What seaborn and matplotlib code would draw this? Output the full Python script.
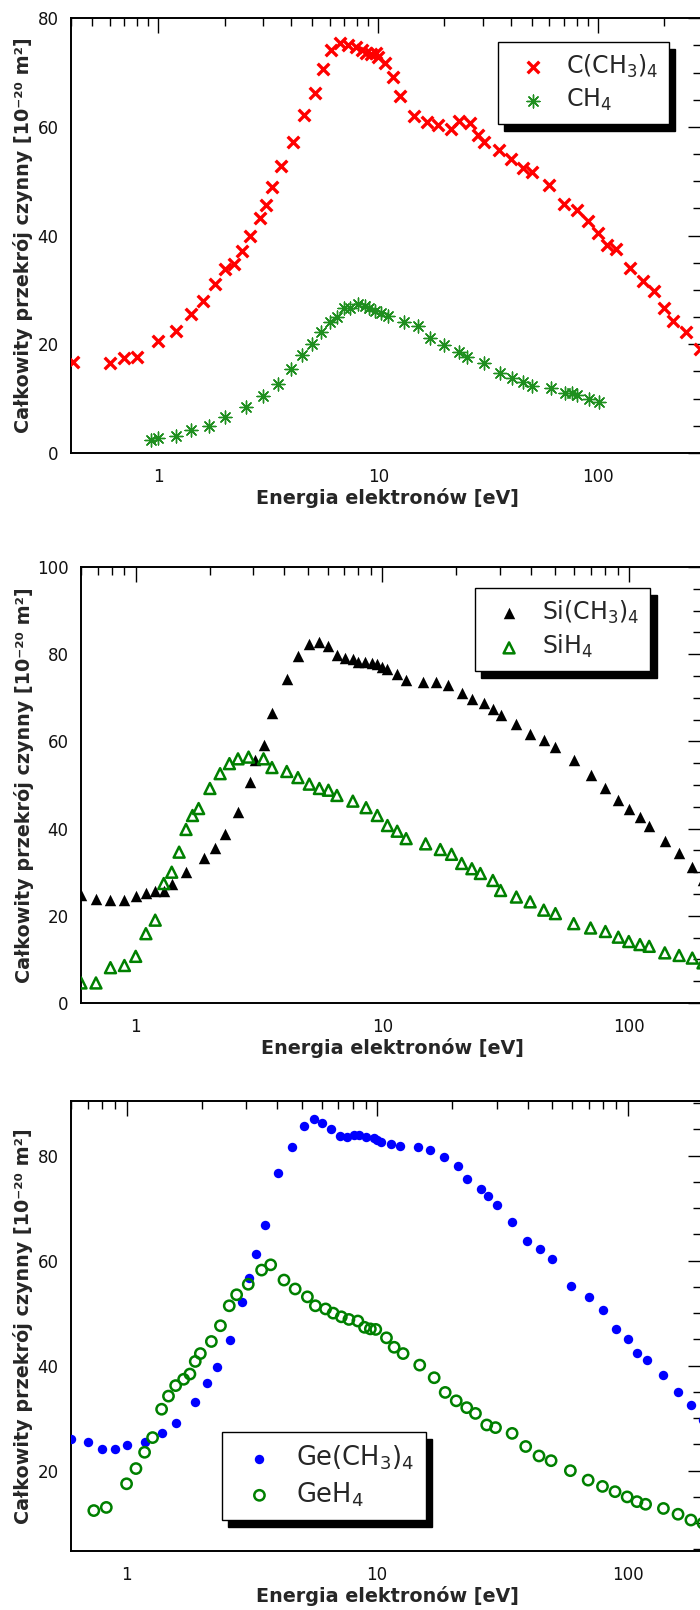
import matplotlib
matplotlib.use("Agg")
import matplotlib.pyplot as plt
import seaborn as sns
from matplotlib.ticker import FixedLocator, FixedFormatter, NullFormatter

# ---- panel 1: C(CH3)4 and CH4
c_energy = [0.41, 0.60, 0.70, 0.80, 1.0, 1.2, 1.4, 1.6, 1.8, 2.0, 2.2, 2.4, 2.6, 2.9, 3.1,
            3.3, 3.6, 4.1, 4.6, 5.15, 5.6, 6.1, 6.7, 7.3, 7.9, 8.4, 8.8, 9.3, 9.8, 10.0,
            10.7, 11.7, 12.6, 14.6, 16.7, 18.6, 21.4, 23.3, 26.2, 28.4, 30.2, 35.4, 40.0,
            45.4, 50.0, 60.0, 70.0, 80.0, 90.0, 100, 110, 120, 140, 160, 180, 200, 220,
            250, 290]
c_sigma = [16.8, 16.6, 17.4, 17.7, 20.6, 22.5, 25.6, 28.0, 31.1, 33.8, 34.8, 37.2, 39.9, 43.3, 45.6,
           49.0, 52.8, 57.2, 62.2, 66.2, 70.7, 74.2, 75.4, 75.0, 74.7, 74.1, 73.7, 73.4, 73.6, 72.8,
           71.8, 69.2, 65.7, 62.1, 61.0, 60.4, 59.7, 61.1, 60.8, 58.6, 57.3, 55.8, 54.1,
           52.4, 51.8, 49.4, 45.9, 44.7, 42.7, 40.5, 38.2, 37.5, 34.1, 31.6, 29.8, 26.7, 24.3,
           22.3, 19.1]
ch4_energy = [0.92, 1.0, 1.2, 1.4, 1.7, 2.0, 2.5, 3.0, 3.5, 4.0, 4.5, 5.0, 5.5, 6.0, 6.5,
              7.0, 7.4, 8.1, 8.7, 9.1, 9.7, 10.3, 11.1, 13.1, 15.1, 17.2, 20.0, 23.3, 25.2,
              30.2, 35.6, 40.4, 45.4, 50.0, 60.8, 71.0, 76.0, 80.5, 91.0, 101]
ch4_sigma = [2.4, 2.7, 3.2, 4.3, 5.0, 6.6, 8.4, 10.5, 12.7, 15.4, 18.0, 20.0, 22.2, 24.1, 25.1,
             26.7, 26.7, 27.5, 27.1, 26.7, 26.1, 25.8, 25.2, 24.1, 23.3, 21.1, 19.9, 18.5, 17.7,
             16.5, 14.8, 13.8, 13.0, 12.4, 11.9, 11.1, 11.1, 10.6, 9.9, 9.3]

# ---- panel 2: Si(CH3)4 and SiH4
si_energy = [0.60, 0.69, 0.79, 0.90, 1.0, 1.1, 1.2, 1.3, 1.4, 1.6, 1.9, 2.1, 2.3, 2.6, 2.9,
             3.06, 3.3, 3.57, 4.1, 4.55, 5.06, 5.56, 6.05, 6.55, 7.07, 7.6, 8.0, 8.5, 9.1,
             9.55, 10.0, 10.5, 11.5, 12.5, 14.6, 16.5, 18.5, 21.0, 23.1, 25.9, 28.1, 30.2,
             35.0, 39.8, 45.2, 50.4, 59.8, 70.0, 80.4, 90.7, 100, 111, 121, 140, 160, 181, 200]
si_sigma = [24.7, 23.9, 23.7, 23.7, 24.5, 25.2, 25.8, 25.8, 27.4, 30.0, 33.3, 35.6, 38.8, 43.8, 50.7,
            55.7, 59.1, 66.4, 74.2, 79.5, 82.4, 82.8, 81.8, 79.9, 79.1, 78.8, 78.2, 78.1, 78.0,
            77.8, 77.1, 76.5, 75.4, 74.0, 73.6, 73.6, 72.9, 71.1, 69.8, 68.8, 67.5, 66.0,
            64.1, 61.8, 60.4, 58.7, 55.7, 52.2, 49.2, 46.5, 44.5, 42.7, 40.7, 37.1, 34.5, 31.2, 28.1]
sih4_energy = [0.60, 0.69, 0.79, 0.90, 1.0, 1.1, 1.2, 1.3, 1.4, 1.5, 1.6, 1.7, 1.8, 2.0, 2.2,
               2.4, 2.6, 2.87, 3.3, 3.57, 4.1, 4.55, 5.06, 5.56, 6.05, 6.55, 7.6, 8.6, 9.55,
               10.5, 11.5, 12.5, 15.0, 17.2, 19.1, 21.0, 23.1, 25.0, 28.1, 30.2, 35.0, 39.8,
               45.2, 50.4, 59.8, 70.0, 80.4, 90.7, 100, 111, 121, 140, 160, 181, 200]
sih4_sigma = [4.6, 4.6, 8.1, 8.6, 10.7, 15.9, 19.0, 27.4, 30.0, 34.6, 39.8, 43.0, 44.6, 49.2, 52.6,
              54.9, 56.0, 56.4, 56.0, 54.0, 53.1, 51.7, 50.2, 49.2, 48.8, 47.6, 46.3, 44.8, 43.0,
              40.7, 39.4, 37.7, 36.5, 35.2, 34.1, 32.0, 30.8, 29.7, 28.1, 25.8, 24.3, 23.2,
              21.3, 20.5, 18.2, 17.2, 16.4, 15.1, 14.1, 13.4, 13.0, 11.5, 10.9, 10.3, 9.2]

# ---- panel 3: Ge(CH3)4 and GeH4
ge_energy = [0.60, 0.70, 0.80, 0.90, 1.0, 1.18, 1.39, 1.58, 1.88, 2.1, 2.29, 2.59, 2.89, 3.08,
             3.28, 3.56, 4.04, 4.58, 5.09, 5.6, 6.05, 6.55, 7.11, 7.56, 8.11, 8.48, 9.02, 9.68,
             10.0, 10.4, 11.4, 12.4, 14.5, 16.3, 18.5, 21.0, 22.9, 26.0, 27.8, 30.0, 34.6,
             39.6, 44.7, 49.7, 59.6, 69.9, 79.8, 89.9, 100, 109, 119, 139, 159, 179, 200]
ge_sigma = [26.0, 25.5, 24.1, 24.1, 24.9, 25.5, 27.1, 29.0, 33.1, 36.6, 39.7, 44.9, 52.2, 56.6,
            61.3, 66.8, 76.6, 81.6, 85.7, 87.0, 86.3, 85.1, 83.8, 83.6, 83.9, 83.9, 83.6, 83.3,
            82.9, 82.5, 82.2, 81.8, 81.6, 81.1, 79.7, 78.0, 75.6, 73.7, 72.4, 70.6, 67.3,
            63.7, 62.3, 60.4, 55.2, 53.0, 50.6, 47.0, 45.1, 42.5, 41.1, 38.3, 35.0, 32.5, 29.7]
geh4_energy = [0.74, 0.83, 1.0, 1.09, 1.18, 1.27, 1.38, 1.47, 1.57, 1.69, 1.79, 1.88, 1.97, 2.18,
               2.37, 2.57, 2.75, 3.06, 3.46, 3.76, 4.25, 4.71, 5.27, 5.67, 6.23, 6.68, 7.2, 7.72,
               8.38, 8.91, 9.4, 9.88, 10.9, 11.7, 12.7, 14.8, 16.9, 18.7, 20.7, 22.8, 24.7,
               27.4, 29.7, 34.6, 39.2, 44.3, 49.5, 59.1, 69.6, 79.4, 89.1, 99.6, 109, 118,
               139, 159, 179, 200]
geh4_sigma = [12.4, 13.0, 17.5, 20.4, 23.5, 26.3, 31.7, 34.2, 36.2, 37.4, 38.4, 40.8, 42.3, 44.6,
              47.6, 51.4, 53.5, 55.5, 58.2, 59.2, 56.3, 54.6, 53.1, 51.4, 50.8, 50.0, 49.3, 48.8,
              48.5, 47.3, 47.0, 46.9, 45.3, 43.5, 42.3, 40.1, 37.7, 34.9, 33.3, 32.0, 30.9,
              28.7, 28.2, 27.1, 24.6, 22.8, 21.9, 20.0, 18.2, 17.0, 16.0, 15.0, 14.1, 13.6,
              12.8, 11.7, 10.6, 10.0]

x_label = "Energia elektronów [eV]"
y_label = "Całkowity przekrój czynny [10⁻²⁰ m²]"

sns.set_theme(style="white")
plt.rcParams["font.family"] = ["DejaVu Sans"]
plt.rcParams["mathtext.default"] = "regular"

fig = plt.figure(figsize=(7.0, 16.1), dpi=100)


def style_axes(ax, xlim, ylim, yticks, ylab_x):
    ax.set_xscale("log")
    ax.set_xlim(*xlim)
    ax.set_ylim(*ylim)
    ax.xaxis.set_major_locator(FixedLocator([1, 10, 100]))
    ax.xaxis.set_major_formatter(FixedFormatter(["1", "10", "100"]))
    minors = [m * d for d in (0.1, 1, 10, 100) for m in range(2, 10)]
    ax.xaxis.set_minor_locator(FixedLocator(minors))
    ax.xaxis.set_minor_formatter(NullFormatter())
    ax.yaxis.set_major_locator(FixedLocator(yticks))
    ax.yaxis.set_minor_locator(FixedLocator([v for v in range(0, 101, 5) if v not in yticks]))
    ax.tick_params(which="both", direction="in", top=True, right=True, color="black",
                   width=1.0, labelsize=12, labelcolor="#111111")
    ax.tick_params(axis="x", which="major", length=11, pad=11)
    ax.tick_params(axis="x", which="minor", length=6)
    ax.tick_params(axis="y", which="major", length=11, pad=9)
    ax.tick_params(axis="y", which="minor", length=7)
    for s in ax.spines.values():
        s.set_color("black")
        s.set_linewidth(1.4)
    ax.set_xlabel(x_label, fontsize=13.8, fontweight="bold", labelpad=1)
    ax.set_ylabel(y_label, fontsize=13.8, fontweight="bold")
    ax.yaxis.set_label_coords(ylab_x, 0.5)


def add_legend(ax, anchor, size):
    leg = ax.legend(loc="upper left", bbox_to_anchor=anchor, borderaxespad=0,
                    fontsize=size, frameon=True, fancybox=False, framealpha=1,
                    edgecolor="black", borderpad=0.44, handlelength=2.03,
                    handletextpad=0.4, labelspacing=0.32, scatterpoints=1,
                    shadow={"ox": 4.5, "oy": -5, "facecolor": "black",
                            "edgecolor": "black", "alpha": 1})
    leg.get_frame().set_linewidth(1.0)
    return leg


# panel 1
ax1 = fig.add_axes([71 / 700, 1 - 453 / 1610, 632 / 700, 434.7 / 1610])
sns.scatterplot(x=c_energy, y=c_sigma, ax=ax1, marker="x", color="#ff0000", s=70,
                linewidth=2.4, label=r"C(CH$_3$)$_4$", zorder=3)
sns.scatterplot(x=ch4_energy, y=ch4_sigma, ax=ax1, marker=(8, 2, 0), color="#1f8f1f", s=85,
                linewidth=1.0, label=r"CH$_4$", zorder=3)
style_axes(ax1, (0.4, 300), (0, 80), [0, 20, 40, 60, 80], -0.060)
add_legend(ax1, (0.676, 0.9455), 17)

# panel 2
ax2 = fig.add_axes([81 / 700, 1 - 1003 / 1610, 622 / 700, 436 / 1610])
sns.scatterplot(x=si_energy, y=si_sigma, ax=ax2, marker="^", color="black", s=68,
                linewidth=0, label=r"Si(CH$_3$)$_4$", zorder=3)
sns.scatterplot(x=sih4_energy, y=sih4_sigma, ax=ax2, marker="^", facecolor="none",
                edgecolor="#008000", s=62, linewidth=1.8, label=r"SiH$_4$", zorder=3)
style_axes(ax2, (0.6, 200), (0, 100), [0, 20, 40, 60, 80, 100], -0.076)
add_legend(ax2, (0.633, 0.952), 17)

# panel 3
ax3 = fig.add_axes([71 / 700, 1 - 1551 / 1610, 632 / 700, 450 / 1610])
sns.scatterplot(x=ge_energy, y=ge_sigma, ax=ax3, marker="o", color="#0000ff", s=46,
                linewidth=0, label=r"Ge(CH$_3$)$_4$", zorder=3)
sns.scatterplot(x=geh4_energy, y=geh4_sigma, ax=ax3, marker="o", facecolor="none",
                edgecolor="#008000", s=55, linewidth=1.8, label=r"GeH$_4$", zorder=3)
style_axes(ax3, (0.6, 200), (4.7, 90.4), [20, 40, 60, 80], -0.060)
add_legend(ax3, (0.239, 0.2644), 18.5)

fig.savefig("out.png", dpi=100)
